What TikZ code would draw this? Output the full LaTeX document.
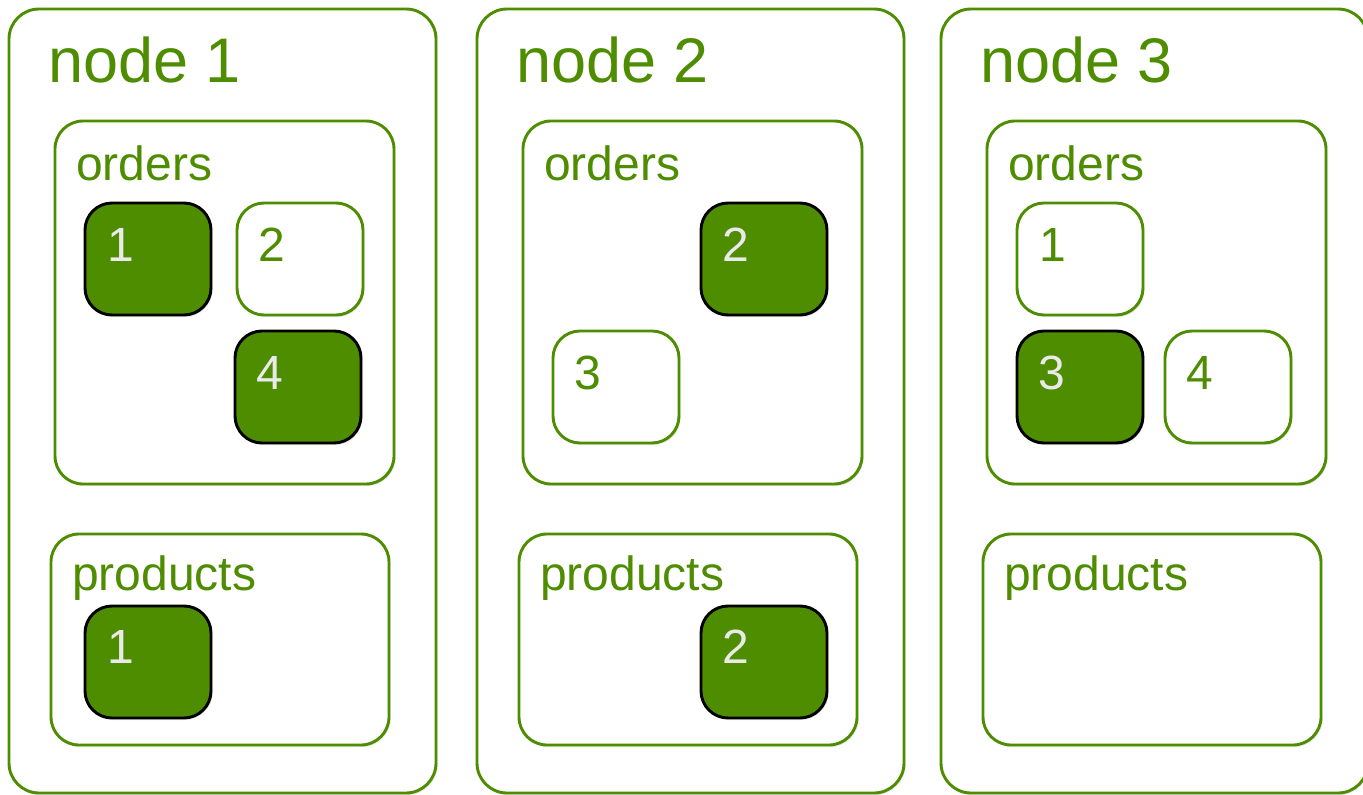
\documentclass[tikz,border=0pt]{standalone}
\usepackage{fontspec}
\setmainfont{Liberation Sans}
\usetikzlibrary{shadows,calc}
\definecolor{leaf}{RGB}{78,140,0}
\definecolor{pale}{RGB}{234,234,234}
\tikzset{
  softshadow/.style={drop shadow={opacity=0.18, shadow xshift=1.5pt, shadow yshift=-2pt}},
  frame/.style={draw=leaf, line width=2.9pt, fill=white, rounded corners=30pt,
    anchor=north west, inner sep=0pt, outer sep=0pt, softshadow},
  hostbox/.style={frame, minimum width=427pt, minimum height=784pt},
  ordersbox/.style={frame, rounded corners=28pt, minimum width=339pt, minimum height=363pt},
  productsbox/.style={frame, rounded corners=28pt, minimum width=338pt, minimum height=211pt},
  doc/.style={line width=2.9pt, rounded corners=27pt, anchor=north west, inner sep=0pt,
    outer sep=0pt, minimum width=126pt, minimum height=112pt, softshadow},
  primary/.style={doc, draw=black, fill=leaf},
  replica/.style={doc, draw=leaf, fill=white},
  hosttitle/.style={anchor=base west, inner sep=0pt, text=leaf, font=\fontsize{63}{63}\selectfont},
  setname/.style={anchor=base west, inner sep=0pt, text=leaf, font=\fontsize{48}{48}\selectfont},
  pnum/.style={anchor=base west, inner sep=0pt, text=pale, font=\fontsize{48}{48}\selectfont},
  rnum/.style={anchor=base west, inner sep=0pt, text=leaf, font=\fontsize{48}{48}\selectfont},
}
\begin{document}
\begin{tikzpicture}[x=1pt, y=-1pt]
  \useasboundingbox (0,0) rectangle (1363,795);
  \fill[white] (0,0) rectangle (1363,795);
  \clip (0,0) rectangle (1363,795);

  % ---- node 1 ----
  \node[hostbox] (h1) at (9,9) {};
  \node[hosttitle] (h1t) at ($(h1.north west)+(39,73)$) {node 1};
  \node[ordersbox] (o1) at (55,121) {};
  \node[setname] (o1t) at ($(o1.north west)+(21,59)$) {orders};
  \node[primary] (o1a) at (85,203) {};
  \node[pnum] at ($(o1a.north west)+(22,58)$) {1};
  \node[replica] (o1b) at (237,203) {};
  \node[rnum] at ($(o1b.north west)+(21,58)$) {2};
  \node[primary] (o1d) at (235,331) {};
  \node[pnum] at ($(o1d.north west)+(21,58)$) {4};
  \node[productsbox] (p1) at (51,534) {};
  \node[setname] (p1t) at ($(p1.north west)+(21,56)$) {products};
  \node[primary] (p1a) at (85,606) {};
  \node[pnum] at ($(p1a.north west)+(22,57)$) {1};

  % ---- node 2 ----
  \node[hostbox] (h2) at (477,9) {};
  \node[hosttitle] (h2t) at ($(h2.north west)+(39,73)$) {node 2};
  \node[ordersbox] (o2) at (523,121) {};
  \node[setname] (o2t) at ($(o2.north west)+(21,59)$) {orders};
  \node[primary] (o2b) at (701,203) {};
  \node[pnum] at ($(o2b.north west)+(21,58)$) {2};
  \node[replica] (o2c) at (553,331) {};
  \node[rnum] at ($(o2c.north west)+(21,58)$) {3};
  \node[productsbox] (p2) at (519,534) {};
  \node[setname] (p2t) at ($(p2.north west)+(21,56)$) {products};
  \node[primary] (p2b) at (701,606) {};
  \node[pnum] at ($(p2b.north west)+(21,57)$) {2};

  % ---- node 3 ----
  \node[hostbox] (h3) at (941,9) {};
  \node[hosttitle] (h3t) at ($(h3.north west)+(39,73)$) {node 3};
  \node[ordersbox] (o3) at (987,121) {};
  \node[setname] (o3t) at ($(o3.north west)+(21,59)$) {orders};
  \node[replica] (o3a) at (1017,203) {};
  \node[rnum] at ($(o3a.north west)+(22,58)$) {1};
  \node[primary] (o3c) at (1017,331) {};
  \node[pnum] at ($(o3c.north west)+(21,58)$) {3};
  \node[replica] (o3d) at (1165,331) {};
  \node[rnum] at ($(o3d.north west)+(21,58)$) {4};
  \node[productsbox] (p3) at (983,534) {};
  \node[setname] (p3t) at ($(p3.north west)+(21,56)$) {products};
\end{tikzpicture}
\end{document}
